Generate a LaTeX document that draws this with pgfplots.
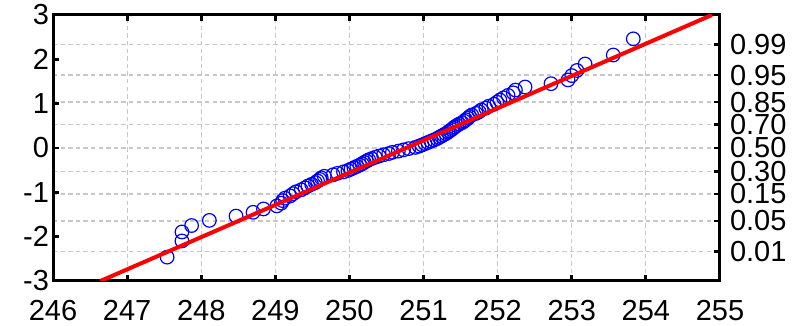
\documentclass[border=0pt]{standalone}
\usepackage{pgfplots}
\pgfplotsset{compat=1.18}
\usepackage{fontspec}
\setmainfont{Liberation Sans}
\definecolor{gridgray}{RGB}{200,200,200}
\begin{document}
\begin{tikzpicture}
\useasboundingbox (-26.5pt,-22.5pt) rectangle (374.5pt,140.5pt);
% right probability axis (horizontal grid)
\begin{axis}[
  at={(0,0)}, anchor=south west, scale only axis,
  width=333.5pt, height=133pt,
  xmin=246, xmax=255, ymin=-3, ymax=3,
  xtick=\empty,
  ytick={-2.326,-1.645,-1.036,-0.524,0,0.524,1.036,1.645,2.326},
  yticklabels={0.01,0.05,0.15,0.30,0.50,0.70,0.85,0.95,0.99},
  ytick pos=right, yticklabel pos=right,
  tick align=inside,
  ymajorgrids,
  grid style={gridgray, line width=0.6pt, dash pattern=on 2.2pt off 1.6pt},
  major tick length=3pt,
  major tick style={black, line width=1.4pt},
  axis line style={line width=1.5pt},
  tick label style={font=\fontsize{14.5}{16}\selectfont},
  yticklabel style={xshift=1.5pt, inner ysep=0pt},
]
\end{axis}
\begin{axis}[
  at={(0,0)}, anchor=south west, scale only axis,
  width=333.5pt, height=133pt,
  xmin=246, xmax=255, ymin=-3, ymax=3,
  xtick={246,247,248,249,250,251,252,253,254,255},
  xticklabels={246,247,248,249,250,251,252,253,254,255},
  ytick={-3,-2,-1,0,1,2,3},
  yticklabels={-3,-2,-1,0,1,2,3},
  xtick pos=both, xticklabel pos=lower,
  ytick pos=left,
  tick align=inside,
  xmajorgrids,
  grid style={gridgray, line width=0.6pt, dash pattern=on 2.2pt off 1.6pt},
  major tick length=3pt,
  major tick style={black, line width=1.4pt},
  axis line style={line width=1.5pt},
  tick label style={font=\fontsize{14.5}{16}\selectfont},
  yticklabel style={xshift=1.5pt},
  xticklabel style={yshift=-6pt},
  clip=true,
  clip marker paths=true,
]
\addplot[only marks, mark=o, mark size=3.4pt, mark options={blue, line width=0.6pt}] coordinates {
(247.54,-2.462) (247.74,-2.097) (247.74,-1.894) (247.87,-1.749) (248.11,-1.633)
(248.47,-1.536) (248.70,-1.451) (248.84,-1.375) (249.02,-1.307) (249.08,-1.244)
(249.10,-1.187) (249.13,-1.132) (249.20,-1.081) (249.24,-1.032) (249.28,-0.986)
(249.35,-0.942) (249.40,-0.899) (249.44,-0.858) (249.49,-0.819) (249.54,-0.781)
(249.57,-0.744) (249.60,-0.708) (249.62,-0.672) (249.66,-0.638) (249.78,-0.604)
(249.84,-0.571) (249.92,-0.539) (249.98,-0.507) (250.02,-0.476) (250.06,-0.445)
(250.10,-0.415) (250.14,-0.385) (250.17,-0.355) (250.20,-0.325) (250.23,-0.296)
(250.26,-0.267) (250.30,-0.239) (250.35,-0.210) (250.40,-0.182) (250.46,-0.153)
(250.53,-0.125) (250.58,-0.098) (250.66,-0.070) (250.73,-0.042) (250.80,-0.014)
(250.89,0.014) (250.94,0.042) (250.98,0.070) (251.02,0.098) (251.06,0.125)
(251.10,0.153) (251.14,0.182) (251.18,0.210) (251.21,0.239) (251.24,0.267)
(251.27,0.296) (251.30,0.325) (251.33,0.355) (251.35,0.385) (251.38,0.415)
(251.40,0.445) (251.42,0.476) (251.45,0.507) (251.48,0.539) (251.52,0.571)
(251.55,0.604) (251.57,0.638) (251.60,0.672) (251.62,0.708) (251.65,0.744)
(251.71,0.781) (251.75,0.819) (251.78,0.858) (251.84,0.899) (251.88,0.942)
(251.95,0.986) (251.99,1.032) (252.03,1.081) (252.08,1.132) (252.14,1.187)
(252.21,1.244) (252.24,1.307) (252.37,1.375) (252.72,1.451) (252.95,1.536)
(253.00,1.633) (253.07,1.749) (253.18,1.894) (253.56,2.097) (253.83,2.462)
};
\addplot[red, line width=2pt] coordinates {(246.64,-3) (254.89,3)};
\end{axis}
\end{tikzpicture}
\end{document}
